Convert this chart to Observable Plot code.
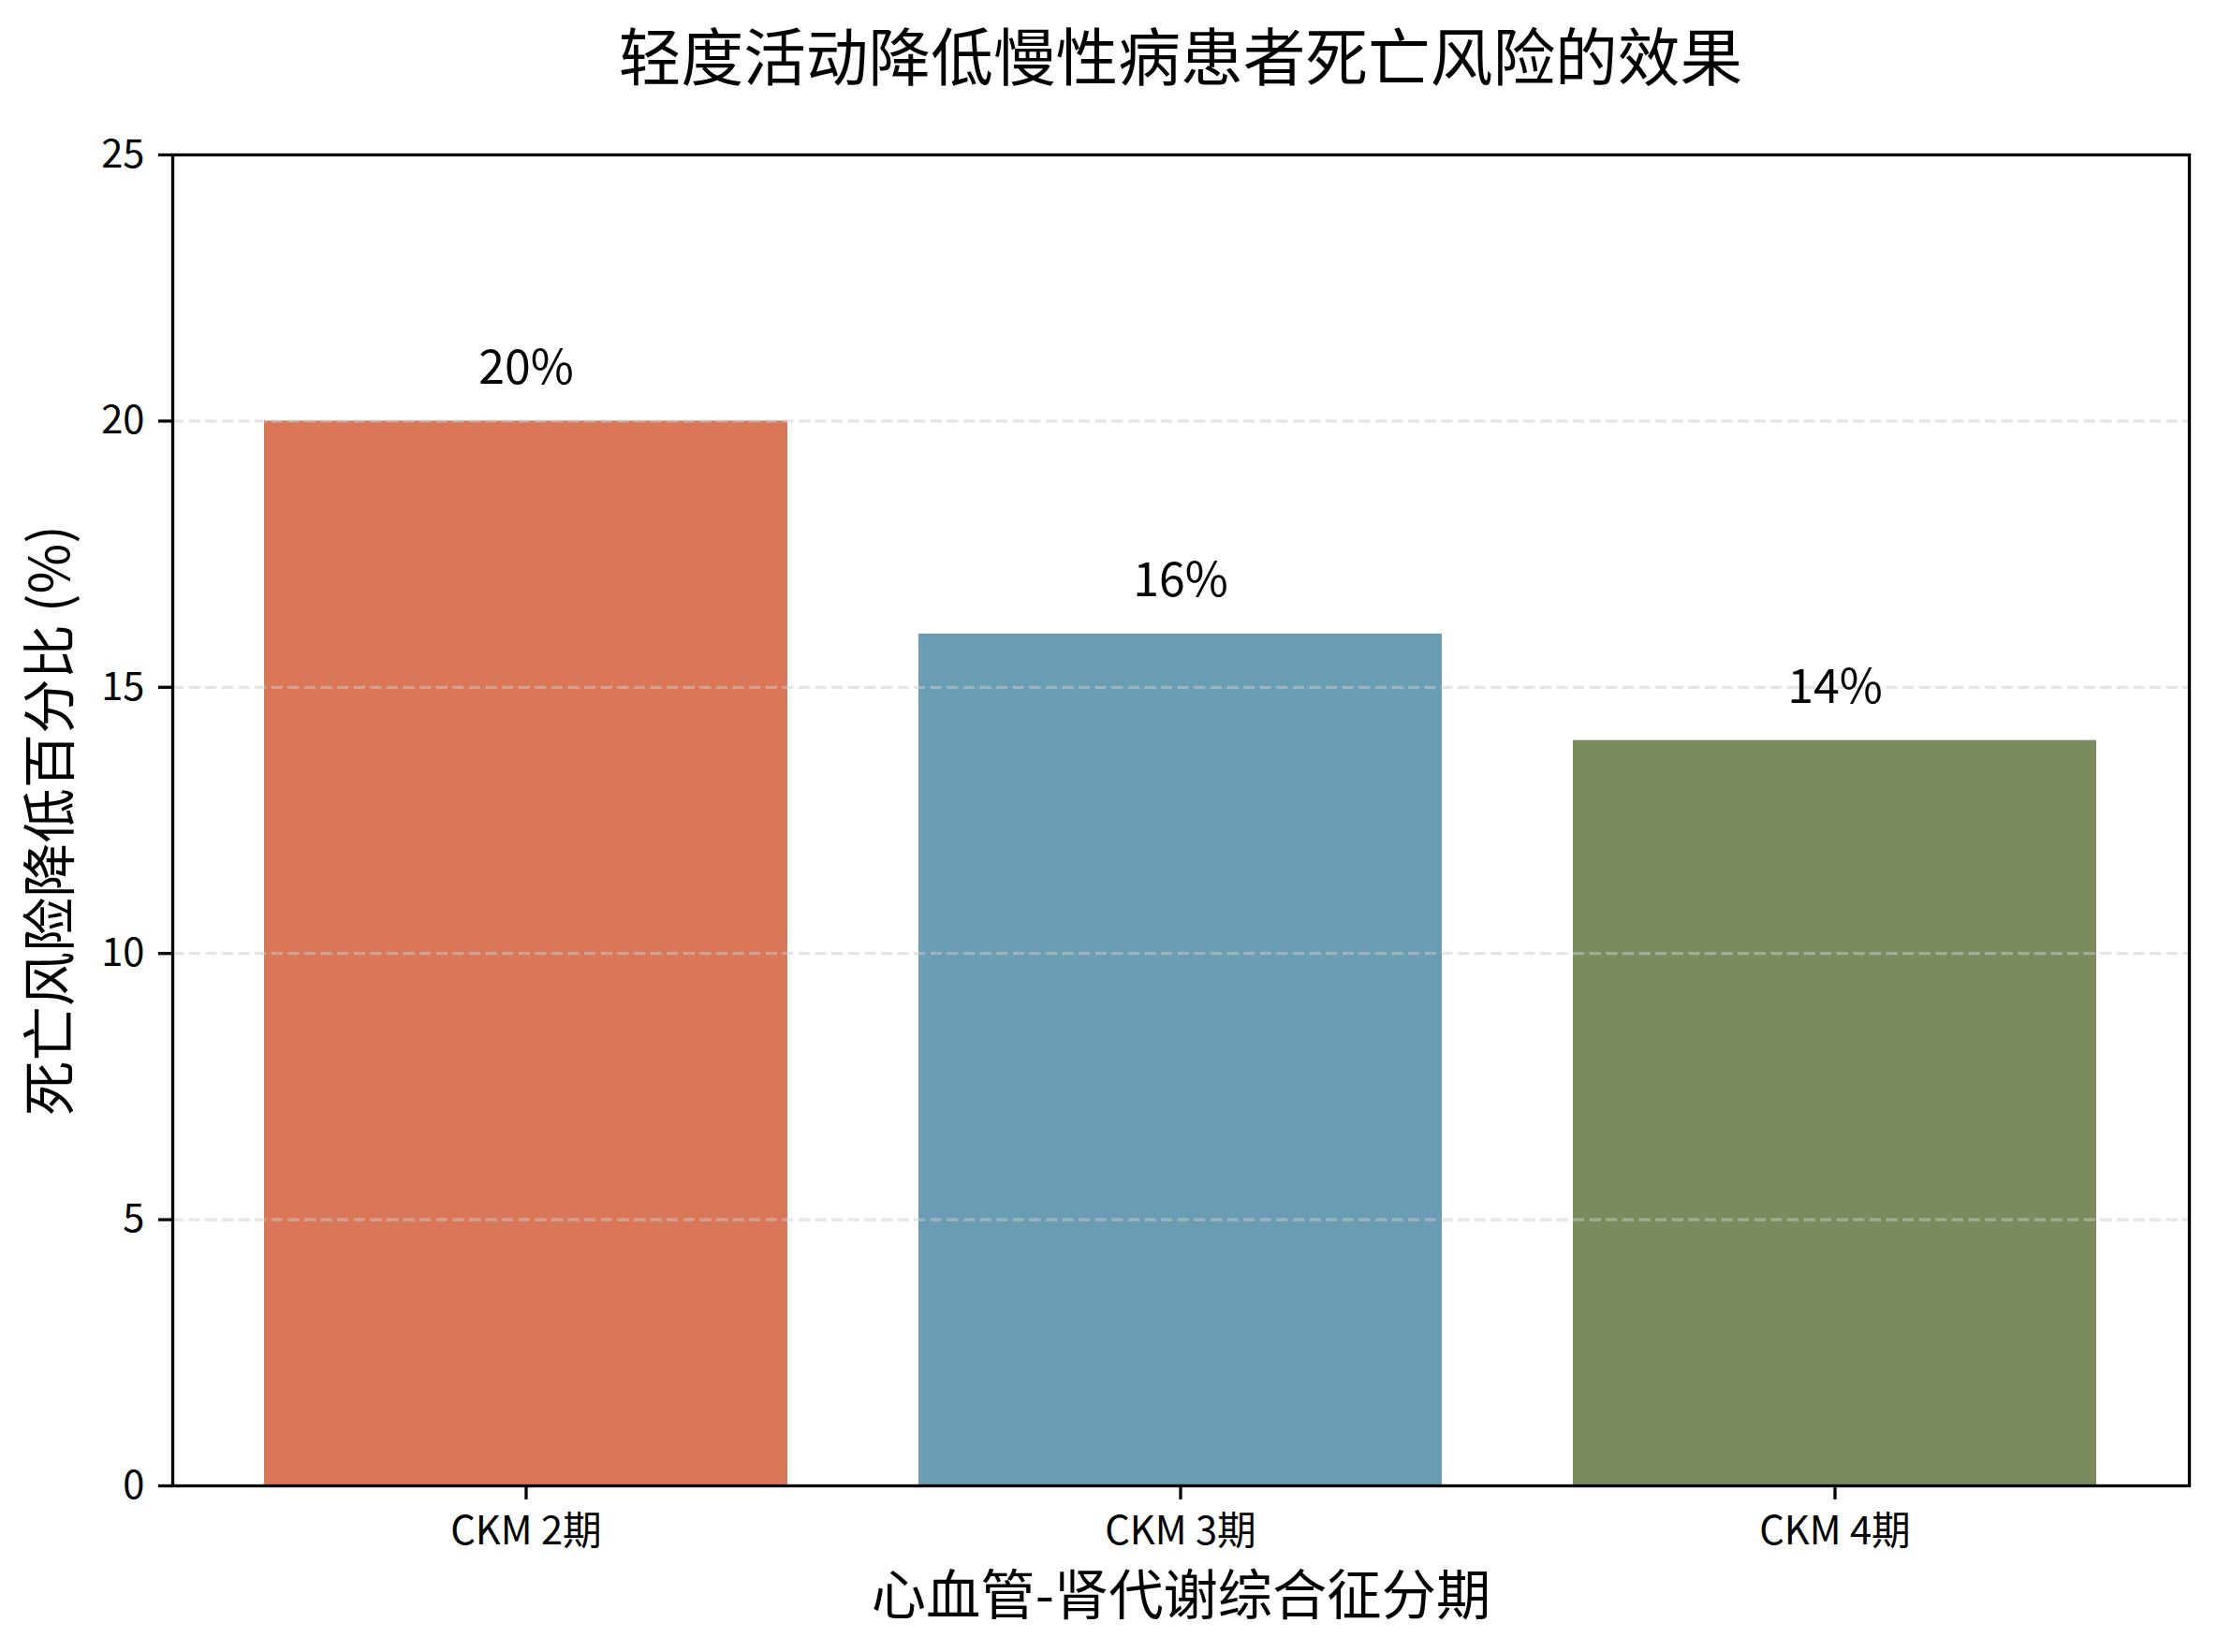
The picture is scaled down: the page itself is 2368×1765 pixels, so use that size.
<!DOCTYPE html>
<html>
<head>
<meta charset="utf-8">
<script src="https://cdn.jsdelivr.net/npm/d3@7"></script>
<script src="https://cdn.jsdelivr.net/npm/@observablehq/plot@0.6"></script>
<style>
  html, body { margin: 0; padding: 0; background: #ffffff; }
  #title {
    margin-left: 184px; width: 2154px; height: 120px; line-height: 114px;
    text-align: center; font-family: "Noto Sans CJK SC", sans-serif;
    font-size: 66.7px; color: #000;
  }
</style>
</head>
<body>
<div id="title">轻度活动降低慢性病患者死亡风险的效果</div>
<div id="chart"></div>
<script>
const categories = ["CKM 2期", "CKM 3期", "CKM 4期"];
const values = [20, 16, 14];
const barColors = ["#DA7758", "#6A9CB3", "#7A8C5E"];
const yTicks = [0, 5, 10, 15, 20, 25];
const gridTicks = [5, 10, 15, 20];
const xLabel = "心血管-肾代谢综合征分期";
const yLabel = "死亡风险降低百分比 (%)";

const data = categories.map((c, i) => ({stage: c, value: values[i]}));

const plot = Plot.plot({
  width: 2368,
  height: 1645,
  marginTop: 45,
  marginBottom: 178,
  marginLeft: 184,
  marginRight: 30,
  style: {fontFamily: "'Noto Sans CJK SC', sans-serif", background: "#ffffff", color: "#000"},
  x: {type: "band", domain: categories, paddingInner: 0.2, paddingOuter: 0.14},
  y: {domain: [0, 25]},
  color: {domain: categories, range: barColors},
  marks: [
    Plot.barY(data, {x: "stage", y: "value", fill: "stage"}),
    Plot.gridY(gridTicks, {stroke: "#cccccc", strokeOpacity: 0.5, strokeWidth: 3.3, strokeDasharray: "12.3,5.3"}),
    Plot.text(data, {x: "stage", y: "value", text: d => `${d.value}%`, dy: -40, lineAnchor: "bottom", fontSize: 50, fill: "#000"}),
    Plot.axisY({ticks: yTicks, tickSize: 15, tickPadding: 15, fontSize: 41.7, strokeWidth: 3.3, label: null}),
    Plot.axisX({tickSize: 15, tickPadding: 18, fontSize: 41.7, strokeWidth: 3.3, label: null}),
    Plot.frame({stroke: "#000", strokeWidth: 3.3}),
    Plot.text([yLabel], {frameAnchor: "left", textAnchor: "middle", rotate: -90, dx: -129, lineAnchor: "middle", fontSize: 58.3, fill: "#000"}),
    Plot.text([xLabel], {frameAnchor: "bottom", dy: 119, lineAnchor: "middle", fontSize: 58.3, fill: "#000"})
  ]
});
document.getElementById("chart").appendChild(plot);
</script>
</body>
</html>
